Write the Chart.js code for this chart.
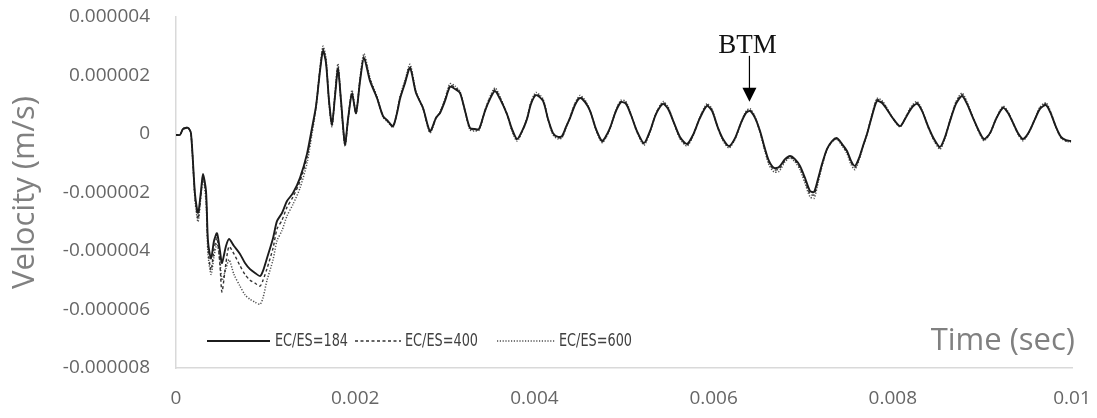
<!DOCTYPE html>
<html>
<head>
<meta charset="utf-8">
<script src="https://cdn.jsdelivr.net/npm/chart.js@4.4.1/dist/chart.umd.min.js"></script>
<style>
  html, body { margin: 0; padding: 0; background: #ffffff; }
  #wrap { width: 1097px; height: 418px; position: relative; }
</style>
</head>
<body>
<div id="wrap"><canvas id="c" width="1097" height="418"></canvas></div>
<script>
// ---- data ----
const timeSec = [
  0, 0.000045, 0.000078, 0.000134, 0.000167, 0.000212, 0.000246, 0.000279, 0.000301, 0.000335,
  0.000357, 0.000391, 0.000424, 0.000458, 0.000491, 0.000513, 0.000558, 0.000592, 0.000647, 0.000714,
  0.000770, 0.000826, 0.000882, 0.000938, 0.000971, 0.001016, 0.001083, 0.001127, 0.001183, 0.001239,
  0.001306, 0.001384, 0.001462, 0.001518, 0.001563, 0.001607, 0.001641, 0.001674, 0.001708, 0.001741,
  0.001775, 0.001808, 0.001842, 0.001886, 0.001920, 0.001964, 0.002009, 0.002054, 0.002098, 0.002165,
  0.002243, 0.002310, 0.002366, 0.002422, 0.002467, 0.002500, 0.002556, 0.002612, 0.002679, 0.002757,
  0.002835, 0.002902, 0.002947, 0.003002, 0.003058, 0.003114, 0.003170, 0.003226, 0.003281, 0.003337,
  0.003382, 0.003449, 0.003505, 0.003560, 0.003616, 0.003694, 0.003750, 0.003806, 0.003862, 0.003917,
  0.003962, 0.004018, 0.004096, 0.004152, 0.004208, 0.004264, 0.004308, 0.004353, 0.004398, 0.004453,
  0.004509, 0.004565, 0.004621, 0.004688, 0.004755, 0.004799, 0.004844, 0.004911, 0.004967, 0.005022,
  0.005078, 0.005145, 0.005223, 0.005290, 0.005357, 0.005435, 0.005491, 0.005558, 0.005625, 0.005703,
  0.005770, 0.005848, 0.005926, 0.005982, 0.006049, 0.006105, 0.006172, 0.006239, 0.006306, 0.006362,
  0.006406, 0.006462, 0.006518, 0.006574, 0.006618, 0.006674, 0.006730, 0.006797, 0.006853, 0.006908,
  0.006964, 0.007020, 0.007076, 0.007121, 0.007165, 0.007210, 0.007266, 0.007322, 0.007377, 0.007433,
  0.007489, 0.007534, 0.007578, 0.007623, 0.007667, 0.007712, 0.007768, 0.007824, 0.007880, 0.007924,
  0.007991, 0.008080, 0.008136, 0.008203, 0.008270, 0.008326, 0.008393, 0.008460, 0.008527, 0.008583,
  0.008638, 0.008705, 0.008772, 0.008828, 0.008895, 0.008962, 0.009018, 0.009085, 0.009152, 0.009230,
  0.009286, 0.009342, 0.009397, 0.009453, 0.009520, 0.009587, 0.009643, 0.009710, 0.009766, 0.009821,
  0.009877, 0.009933, 0.009989
];

const velocity184 = [
  -0.03e-6, -0.03e-6, 0.17e-6, 0.21e-6, 0.03e-6, -2.05e-6, -2.70e-6, -1.95e-6, -1.37e-6, -1.95e-6,
  -3.66e-6, -4.27e-6, -3.66e-6, -3.39e-6, -4.00e-6, -4.41e-6, -3.83e-6, -3.59e-6, -3.83e-6, -4.10e-6,
  -4.41e-6, -4.62e-6, -4.75e-6, -4.86e-6, -4.68e-6, -4.24e-6, -3.56e-6, -2.98e-6, -2.70e-6, -2.29e-6,
  -2.02e-6, -1.50e-6, -0.68e-6, 0.21e-6, 0.96e-6, 2.15e-6, 2.84e-6, 2.43e-6, 1.13e-6, 0.34e-6,
  1.30e-6, 2.22e-6, 1.13e-6, -0.34e-6, 0.51e-6, 1.37e-6, 0.72e-6, 1.81e-6, 2.60e-6, 1.81e-6,
  1.23e-6, 0.62e-6, 0.44e-6, 0.27e-6, 0.72e-6, 1.20e-6, 1.74e-6, 2.26e-6, 1.40e-6, 0.89e-6,
  0.10e-6, 0.55e-6, 0.72e-6, 1.13e-6, 1.61e-6, 1.54e-6, 1.40e-6, 0.79e-6, 0.21e-6, 0.17e-6,
  0.17e-6, 0.79e-6, 1.20e-6, 1.47e-6, 1.20e-6, 0.68e-6, 0.17e-6, -0.17e-6, 0.10e-6, 0.51e-6,
  1.03e-6, 1.33e-6, 1.13e-6, 0.51e-6, 0.03e-6, -0.10e-6, -0.07e-6, 0.24e-6, 0.55e-6, 0.99e-6,
  1.23e-6, 1.09e-6, 0.79e-6, 0.17e-6, -0.24e-6, -0.07e-6, 0.21e-6, 0.79e-6, 1.09e-6, 1.03e-6,
  0.65e-6, 0.10e-6, -0.31e-6, 0.10e-6, 0.68e-6, 1.03e-6, 0.86e-6, 0.38e-6, -0.10e-6, -0.34e-6,
  -0.03e-6, 0.55e-6, 0.96e-6, 0.79e-6, 0.21e-6, -0.17e-6, -0.41e-6, -0.14e-6, 0.38e-6, 0.72e-6,
  0.79e-6, 0.55e-6, 0.10e-6, -0.51e-6, -0.92e-6, -1.16e-6, -1.13e-6, -0.86e-6, -0.75e-6, -0.86e-6,
  -1.09e-6, -1.50e-6, -1.95e-6, -1.98e-6, -1.54e-6, -1.03e-6, -0.51e-6, -0.24e-6, -0.14e-6, -0.34e-6,
  -0.58e-6, -0.92e-6, -1.09e-6, -0.82e-6, -0.41e-6, 0.00e-6, 0.62e-6, 1.13e-6, 1.06e-6, 0.89e-6,
  0.58e-6, 0.27e-6, 0.51e-6, 0.86e-6, 1.03e-6, 0.79e-6, 0.27e-6, -0.17e-6, -0.44e-6, -0.10e-6,
  0.44e-6, 1.03e-6, 1.30e-6, 1.03e-6, 0.55e-6, 0.10e-6, -0.17e-6, 0.03e-6, 0.51e-6, 0.89e-6,
  0.72e-6, 0.38e-6, 0.03e-6, -0.17e-6, 0.07e-6, 0.51e-6, 0.86e-6, 0.99e-6, 0.68e-6, 0.24e-6,
  -0.10e-6, -0.21e-6, -0.24e-6
];

const velocity400 = [
  -0.03e-6, -0.03e-6, 0.17e-6, 0.21e-6, 0.03e-6, -2.15e-6, -2.90e-6, -2.05e-6, -1.45e-6, -2.10e-6,
  -3.90e-6, -4.65e-6, -3.95e-6, -3.55e-6, -4.50e-6, -5.40e-6, -4.40e-6, -3.85e-6, -4.10e-6, -4.50e-6,
  -4.80e-6, -5.00e-6, -5.10e-6, -5.20e-6, -5.00e-6, -4.60e-6, -3.90e-6, -3.25e-6, -2.95e-6, -2.50e-6,
  -2.15e-6, -1.62e-6, -0.80e-6, 0.12e-6, 0.95e-6, 2.20e-6, 2.92e-6, 2.50e-6, 1.10e-6, 0.30e-6,
  1.35e-6, 2.30e-6, 1.10e-6, -0.38e-6, 0.50e-6, 1.42e-6, 0.70e-6, 1.86e-6, 2.66e-6, 1.86e-6,
  1.25e-6, 0.60e-6, 0.42e-6, 0.25e-6, 0.74e-6, 1.24e-6, 1.78e-6, 2.30e-6, 1.42e-6, 0.88e-6,
  0.07e-6, 0.55e-6, 0.74e-6, 1.16e-6, 1.66e-6, 1.58e-6, 1.42e-6, 0.78e-6, 0.18e-6, 0.14e-6,
  0.15e-6, 0.80e-6, 1.24e-6, 1.52e-6, 1.24e-6, 0.68e-6, 0.14e-6, -0.20e-6, 0.08e-6, 0.52e-6,
  1.06e-6, 1.37e-6, 1.16e-6, 0.50e-6, 0.00e-6, -0.13e-6, -0.10e-6, 0.23e-6, 0.56e-6, 1.02e-6,
  1.27e-6, 1.12e-6, 0.80e-6, 0.15e-6, -0.27e-6, -0.10e-6, 0.20e-6, 0.80e-6, 1.12e-6, 1.07e-6,
  0.66e-6, 0.08e-6, -0.34e-6, 0.08e-6, 0.69e-6, 1.07e-6, 0.90e-6, 0.38e-6, -0.13e-6, -0.37e-6,
  -0.05e-6, 0.56e-6, 1.00e-6, 0.82e-6, 0.20e-6, -0.20e-6, -0.44e-6, -0.16e-6, 0.38e-6, 0.75e-6,
  0.83e-6, 0.57e-6, 0.08e-6, -0.55e-6, -0.98e-6, -1.22e-6, -1.20e-6, -0.90e-6, -0.78e-6, -0.90e-6,
  -1.15e-6, -1.58e-6, -2.05e-6, -2.08e-6, -1.60e-6, -1.06e-6, -0.52e-6, -0.25e-6, -0.16e-6, -0.37e-6,
  -0.62e-6, -0.97e-6, -1.15e-6, -0.85e-6, -0.42e-6, 0.00e-6, 0.64e-6, 1.18e-6, 1.10e-6, 0.92e-6,
  0.58e-6, 0.26e-6, 0.52e-6, 0.90e-6, 1.07e-6, 0.80e-6, 0.25e-6, -0.20e-6, -0.48e-6, -0.12e-6,
  0.45e-6, 1.07e-6, 1.35e-6, 1.06e-6, 0.55e-6, 0.08e-6, -0.20e-6, 0.02e-6, 0.52e-6, 0.92e-6,
  0.74e-6, 0.38e-6, 0.01e-6, -0.20e-6, 0.06e-6, 0.52e-6, 0.89e-6, 1.03e-6, 0.70e-6, 0.24e-6,
  -0.12e-6, -0.23e-6, -0.26e-6
];

const velocity600 = [
  -0.03e-6, -0.03e-6, 0.18e-6, 0.22e-6, 0.02e-6, -2.25e-6, -3.00e-6, -2.10e-6, -1.50e-6, -2.30e-6,
  -4.10e-6, -4.80e-6, -4.20e-6, -3.75e-6, -4.35e-6, -5.00e-6, -4.60e-6, -4.30e-6, -4.80e-6, -5.20e-6,
  -5.50e-6, -5.65e-6, -5.75e-6, -5.82e-6, -5.60e-6, -5.00e-6, -4.30e-6, -3.65e-6, -3.30e-6, -2.80e-6,
  -2.40e-6, -1.85e-6, -1.00e-6, 0.00e-6, 0.90e-6, 2.25e-6, 3.00e-6, 2.60e-6, 1.05e-6, 0.25e-6,
  1.42e-6, 2.40e-6, 1.05e-6, -0.42e-6, 0.48e-6, 1.50e-6, 0.70e-6, 1.92e-6, 2.75e-6, 1.92e-6,
  1.28e-6, 0.58e-6, 0.40e-6, 0.22e-6, 0.76e-6, 1.28e-6, 1.84e-6, 2.38e-6, 1.45e-6, 0.88e-6,
  0.04e-6, 0.55e-6, 0.76e-6, 1.20e-6, 1.72e-6, 1.64e-6, 1.45e-6, 0.78e-6, 0.14e-6, 0.10e-6,
  0.13e-6, 0.82e-6, 1.28e-6, 1.58e-6, 1.28e-6, 0.68e-6, 0.10e-6, -0.24e-6, 0.06e-6, 0.53e-6,
  1.09e-6, 1.42e-6, 1.20e-6, 0.50e-6, -0.03e-6, -0.17e-6, -0.13e-6, 0.22e-6, 0.58e-6, 1.05e-6,
  1.32e-6, 1.16e-6, 0.80e-6, 0.13e-6, -0.30e-6, -0.13e-6, 0.19e-6, 0.82e-6, 1.16e-6, 1.11e-6,
  0.67e-6, 0.06e-6, -0.38e-6, 0.06e-6, 0.70e-6, 1.11e-6, 0.93e-6, 0.38e-6, -0.16e-6, -0.41e-6,
  -0.07e-6, 0.57e-6, 1.04e-6, 0.85e-6, 0.19e-6, -0.23e-6, -0.48e-6, -0.18e-6, 0.38e-6, 0.78e-6,
  0.87e-6, 0.59e-6, 0.06e-6, -0.60e-6, -1.05e-6, -1.30e-6, -1.28e-6, -0.95e-6, -0.82e-6, -0.95e-6,
  -1.22e-6, -1.68e-6, -2.15e-6, -2.20e-6, -1.68e-6, -1.10e-6, -0.54e-6, -0.27e-6, -0.18e-6, -0.40e-6,
  -0.67e-6, -1.04e-6, -1.22e-6, -0.90e-6, -0.44e-6, 0.00e-6, 0.66e-6, 1.22e-6, 1.14e-6, 0.95e-6,
  0.58e-6, 0.24e-6, 0.53e-6, 0.93e-6, 1.11e-6, 0.82e-6, 0.24e-6, -0.23e-6, -0.52e-6, -0.14e-6,
  0.46e-6, 1.10e-6, 1.40e-6, 1.10e-6, 0.56e-6, 0.06e-6, -0.23e-6, 0.01e-6, 0.53e-6, 0.95e-6,
  0.76e-6, 0.38e-6, -0.01e-6, -0.23e-6, 0.05e-6, 0.53e-6, 0.92e-6, 1.07e-6, 0.72e-6, 0.24e-6,
  -0.13e-6, -0.25e-6, -0.27e-6
];

const seriesNames = ['EC/ES=184', 'EC/ES=400', 'EC/ES=600'];
const xTickLabels = ['0', '0.002', '0.004', '0.006', '0.008', '0.01'];
const yTickLabels = ['-0.000008', '-0.000006', '-0.000004', '-0.000002', '0', '0.000002', '0.000004'];
const xAxisTitle = 'Time (sec)';
const yAxisTitle = 'Velocity (m/s)';
const btmLabel = 'BTM';
const btmTime = 0.0064;
const btmTip = 1.1e-6;

// ---- styles ----
const lineStyles = [
  { color: '#1c1c1c', width: 1.9, dash: [] },
  { color: '#333333', width: 1.4, dash: [3, 2.5] },
  { color: '#4d4d4d', width: 1.5, dash: [1.2, 1.6] }
];
// legend layout: [sample start, sample end, text start] offsets from plot left
const legendSlots = [[31, 94, 99], [179, 225, 229], [321, 379, 383]];
const tickFont = { family: '"Open Sans", "Liberation Sans", sans-serif', size: 19 };
const tickColor = '#666666';
const titleColor = '#808080';

function pairs(vals) { return timeSec.map((t, i) => ({ x: t, y: vals[i] })); }
const allSeries = [velocity184, velocity400, velocity600];

const datasets = allSeries.map((vals, i) => ({
  label: seriesNames[i],
  data: pairs(vals),
  borderColor: lineStyles[i].color,
  borderWidth: lineStyles[i].width,
  borderDash: lineStyles[i].dash,
  pointRadius: 0,
  fill: false,
  tension: 0.25
}));

const overlay = {
  id: 'overlay',
  afterDatasetsDraw(chart) {
    const { ctx, chartArea: a, scales } = chart;
    ctx.save();
    // legend inside plot area
    const ly = a.bottom - 27;
    ctx.font = '17px "Liberation Sans Narrow", "DejaVu Sans Condensed", sans-serif';
    ctx.textBaseline = 'middle';
    ctx.textAlign = 'left';
    seriesNames.forEach((name, i) => {
      const st = lineStyles[i];
      const [s0, s1, tx] = legendSlots[i];
      ctx.beginPath();
      ctx.setLineDash(st.dash);
      ctx.strokeStyle = st.color;
      ctx.lineWidth = st.width;
      ctx.moveTo(a.left + s0, ly);
      ctx.lineTo(a.left + s1, ly);
      ctx.stroke();
      ctx.setLineDash([]);
      ctx.fillStyle = '#404040';
      ctx.fillText(name, a.left + tx, ly + 1, 73);
    });
    // x axis title inside plot area (right)
    ctx.font = '31px "Open Sans", "Liberation Sans", sans-serif';
    ctx.fillStyle = titleColor;
    ctx.textAlign = 'right';
    ctx.fillText(xAxisTitle, a.right + 3, ly);
    // BTM annotation
    const px = scales.x.getPixelForValue(btmTime);
    const tipY = scales.y.getPixelForValue(btmTip);
    ctx.strokeStyle = '#000';
    ctx.fillStyle = '#000';
    ctx.lineWidth = 1.2;
    ctx.beginPath();
    ctx.moveTo(px, tipY - 46);
    ctx.lineTo(px, tipY - 12);
    ctx.stroke();
    ctx.beginPath();
    ctx.moveTo(px - 7, tipY - 14);
    ctx.lineTo(px + 7, tipY - 14);
    ctx.lineTo(px, tipY);
    ctx.closePath();
    ctx.fill();
    ctx.font = '27px "Liberation Serif", "Times New Roman", serif';
    ctx.textAlign = 'center';
    ctx.textBaseline = 'alphabetic';
    ctx.fillStyle = '#111';
    ctx.fillText(btmLabel, px - 2, tipY - 49);
    ctx.restore();
  }
};

new Chart(document.getElementById('c'), {
  type: 'line',
  data: { datasets },
  plugins: [overlay],
  options: {
    responsive: false,
    animation: false,
    devicePixelRatio: 1,
    layout: { autoPadding: false, padding: { left: 0, right: 25, top: 17, bottom: 0 } },
    plugins: { legend: { display: false }, tooltip: { enabled: false } },
    scales: {
      x: {
        type: 'linear',
        min: 0, max: 0.01,
        afterFit(scale) {
          scale.height = 50;
          scale.paddingLeft = 0; scale.paddingRight = 0;
          scale.paddingTop = 0; scale.paddingBottom = 0;
        },
        ticks: {
          stepSize: 0.002,
          font: tickFont, color: tickColor, padding: 19,
          maxRotation: 0, autoSkip: false,
          callback: (v, i) => xTickLabels[i]
        },
        grid: { display: false, drawTicks: false },
        border: { display: true, color: '#d9d9d9', width: 1.5 }
      },
      y: {
        type: 'linear',
        min: -8e-6, max: 4e-6,
        afterFit(scale) {
          scale.width = 176;
          scale.paddingTop = 0; scale.paddingBottom = 0;
          scale.paddingLeft = 0; scale.paddingRight = 0;
        },
        ticks: {
          stepSize: 2e-6,
          font: tickFont, color: tickColor, padding: 26,
          autoSkip: false,
          callback: (v, i) => yTickLabels[i]
        },
        grid: { display: false, drawTicks: false },
        border: { display: true, color: '#d9d9d9', width: 1.5 },
        title: {
          display: true, text: yAxisTitle, color: titleColor,
          font: { family: '"Open Sans", "Liberation Sans", sans-serif', size: 31 },
          padding: { top: 7, bottom: 0 }
        }
      }
    }
  }
});
</script>
</body>
</html>
